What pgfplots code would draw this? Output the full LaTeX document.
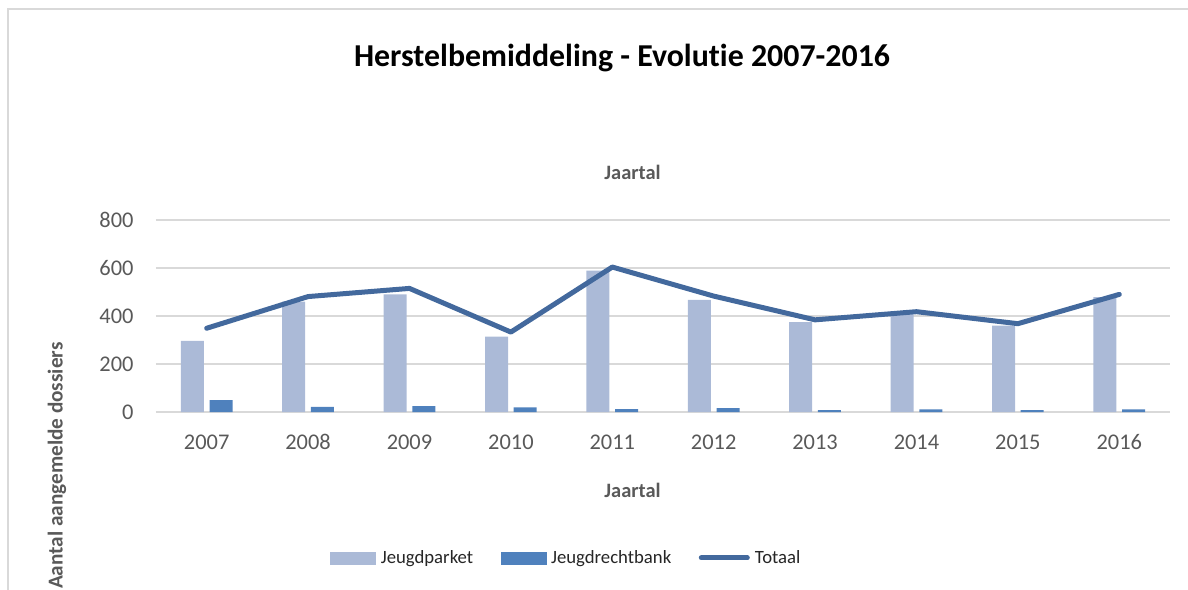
\documentclass[border=0pt]{standalone}
\usepackage{fontspec}
\setmainfont{Carlito}[Ligatures={NoCommon}]
\usepackage{pgfplots}
\pgfplotsset{compat=1.18}
\usepackage{pgfplotstable}
\definecolor{jp}{HTML}{ABBAD7}
\definecolor{jr}{HTML}{4F81BD}
\definecolor{tot}{HTML}{43699D}
\definecolor{gridc}{HTML}{D9D9D9}
\definecolor{txt}{HTML}{595959}
\definecolor{legtxt}{HTML}{262626}

\pgfplotstableread{
x jp jr tot
0 296 50 349
1 460 21 481
2 490 25 515
3 314 19 333
4 589 12 604
5 467 16 483
6 374 8 384
7 407 11 418
8 360 8 368
9 479 11 490
}\data

\begin{document}
\begin{tikzpicture}
\useasboundingbox (-156bp,-178bp) rectangle (1032bp,412bp);
\draw[gridc, line width=1.5bp] (-148bp,-178bp) -- (-148bp,403bp) -- (1032bp,403bp);
\begin{axis}[
  scale only axis, width=1014bp, height=192bp,
  xmin=-0.5, xmax=9.5, ymin=0, ymax=800,
  xtick={0,...,9}, xticklabels={2007,2008,2009,2010,2011,2012,2013,2014,2015,2016},
  ytick={0,200,...,800},
  ymajorgrids, grid style={gridc, line width=1.5bp},
  axis line style={draw=none},
  major tick length=0pt,
  tick label style={font=\fontsize{22.5}{26}\selectfont, text=txt},
  /pgf/number format/assume math mode=true,
  yticklabel style={xshift=-19bp},
  xticklabel style={yshift=-19bp},
  clip=false,
  title={Herstelbemiddeling - Evolutie 2007-2016},
  title style={at={(axis description cs:0.4596,1.81)}, anchor=center, font=\fontsize{32}{36}\selectfont\bfseries, text=black},
  xlabel={Jaartal},
  xlabel style={at={(axis description cs:0.470,-0.406)}, anchor=center, font=\fontsize{20.5}{24}\selectfont\bfseries, text=txt},
  ylabel={Aantal aangemelde dossiers},
  ylabel style={at={(axis description cs:-0.0976,-0.28)}, anchor=center, font=\fontsize{21.3}{24}\selectfont\bfseries, text=txt},
  legend columns=3,
  legend style={draw=none, at={(axis description cs:0.405,-0.76)}, anchor=center,
    font=\fontsize{18.8}{22}\selectfont, text=legtxt,
    /tikz/every odd column/.append style={column sep=2.5bp},
    /tikz/every even column/.append style={column sep=25bp},
    nodes={inner sep=2.5bp}},
]
\addplot[ybar, bar width=23bp, bar shift=-14.35bp, fill=jp, draw=none, forget plot] table[x=x, y=jp] {\data};
\addplot[ybar, bar width=23bp, bar shift=14.35bp, fill=jr, draw=none, forget plot] table[x=x, y=jr] {\data};
\addplot[tot, line width=5bp, line cap=round, line join=round, mark=none, forget plot] table[x=x, y=tot] {\data};
\addlegendimage{legend image code/.code={\fill[jp] (0bp,-6bp) rectangle (45bp,6bp);}}
\addlegendentry{Jeugdparket}
\addlegendimage{legend image code/.code={\fill[jr] (0bp,-6bp) rectangle (45bp,6bp);}}
\addlegendentry{Jeugdrechtbank}
\addlegendimage{legend image code/.code={\draw[tot, line width=5bp, line cap=round] (0bp,0bp) -- (46bp,0bp);}}
\addlegendentry{Totaal}
\node[font=\fontsize{20.5}{24}\selectfont\bfseries, text=txt] at (axis description cs:0.470,1.25) {Jaartal};
\end{axis}
\end{tikzpicture}
\end{document}
